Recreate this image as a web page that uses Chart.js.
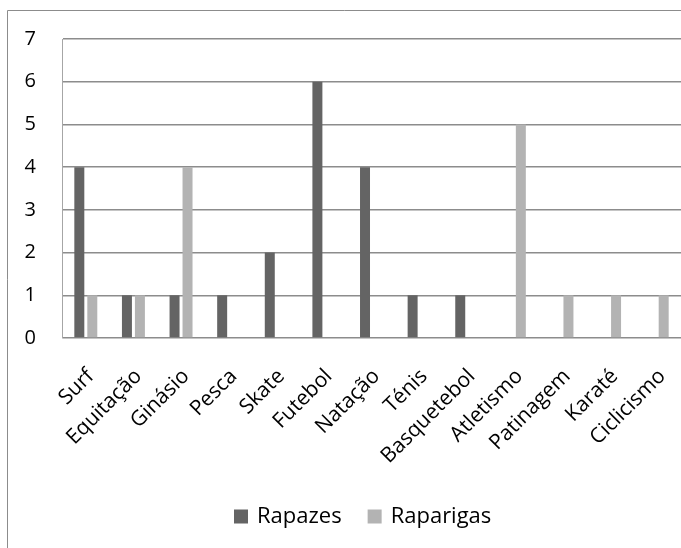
<!DOCTYPE html>
<html>
<head>
<meta charset="utf-8">
<script src="https://cdn.jsdelivr.net/npm/chart.js@4/dist/chart.umd.min.js"></script>
<style>
  html, body { margin: 0; padding: 0; background: #fff; }
  #wrap { position: relative; width: 681px; height: 548px; overflow: hidden; }
</style>
</head>
<body>
<div id="wrap"><canvas id="c" width="681" height="548"></canvas></div>
<script>
// Desportos praticados, por género
const categories = ['Surf', 'Equitação', 'Ginásio', 'Pesca', 'Skate', 'Futebol', 'Natação', 'Ténis', 'Basquetebol', 'Atletismo', 'Patinagem', 'Karaté', 'Ciclicismo'];
const rapazes    = [4, 1, 1, 1, 2, 6, 4, 1, 1, 0, 0, 0, 0];
const raparigas  = [1, 1, 4, 0, 0, 0, 0, 0, 0, 5, 1, 1, 1];
const yTicks     = [0, 1, 2, 3, 4, 5, 6, 7];

const FONT = '"Open Sans", Lato, sans-serif';

// thin outer frame (top and left edges of the chart box)
const framePlugin = {
  id: 'frame',
  afterDraw(chart) {
    const ctx = chart.ctx;
    ctx.save();
    ctx.strokeStyle = '#8c8c8c';
    ctx.lineWidth = 1;
    ctx.beginPath();
    ctx.moveTo(7.5, 548);
    ctx.lineTo(7.5, 10.5);
    ctx.lineTo(681, 10.5);
    ctx.stroke();
    ctx.restore();
  }
};

// legend row under the axis labels, built from the datasets
const legendRow = {
  id: 'legendRow',
  afterDraw(chart, args, opts) {
    const ctx = chart.ctx;
    ctx.save();
    ctx.font = `${opts.fontSize}px ${FONT}`;
    ctx.textBaseline = 'middle';
    ctx.textAlign = 'left';
    let x = opts.x;
    const y = opts.y;
    chart.data.datasets.forEach(ds => {
      ctx.fillStyle = ds.backgroundColor;
      ctx.fillRect(x, y - opts.box / 2, opts.box, opts.box);
      x += opts.box + opts.gap;
      ctx.fillStyle = '#000';
      ctx.fillText(ds.label, x, y);
      x += ctx.measureText(ds.label).width + opts.itemGap;
    });
    ctx.restore();
  }
};

new Chart(document.getElementById('c'), {
  type: 'bar',
  data: {
    labels: categories,
    datasets: [
      { label: 'Rapazes', data: rapazes, backgroundColor: '#646464',
        categoryPercentage: 0.545, barPercentage: 0.77 },
      { label: 'Raparigas', data: raparigas, backgroundColor: '#b3b3b3',
        categoryPercentage: 0.545, barPercentage: 0.77 }
    ]
  },
  options: {
    responsive: false,
    animation: false,
    layout: { padding: { top: 39, left: 0, right: 0, bottom: 10 } },
    plugins: {
      tooltip: { enabled: false },
      legend: { display: false },
      legendRow: { x: 234, y: 516.5, box: 14, gap: 9, itemGap: 26, fontSize: 22 }
    },
    scales: {
      x: {
        grid: { display: false, drawTicks: false },
        border: { display: false },
        ticks: {
          font: { family: FONT, size: 21 },
          color: '#000',
          minRotation: 45,
          maxRotation: 45,
          autoSkip: false,
          padding: 26,
          labelOffset: 5
        },
        afterFit(scale) {
          scale.height = 200;
          scale.paddingLeft = 0;
          scale.paddingRight = 0;
        }
      },
      y: {
        min: 0,
        max: 7,
        afterBuildTicks(scale) { scale.ticks = yTicks.map(v => ({ value: v })); },
        grid: { color: '#8c8c8c', lineWidth: 1.5, drawTicks: false },
        border: { display: true, color: '#a6a6a6', width: 1 },
        ticks: {
          font: { family: FONT, size: 20 },
          color: '#000',
          padding: 26
        },
        afterFit(scale) { scale.width = 62; }
      }
    }
  },
  plugins: [framePlugin, legendRow]
});
</script>
</body>
</html>
